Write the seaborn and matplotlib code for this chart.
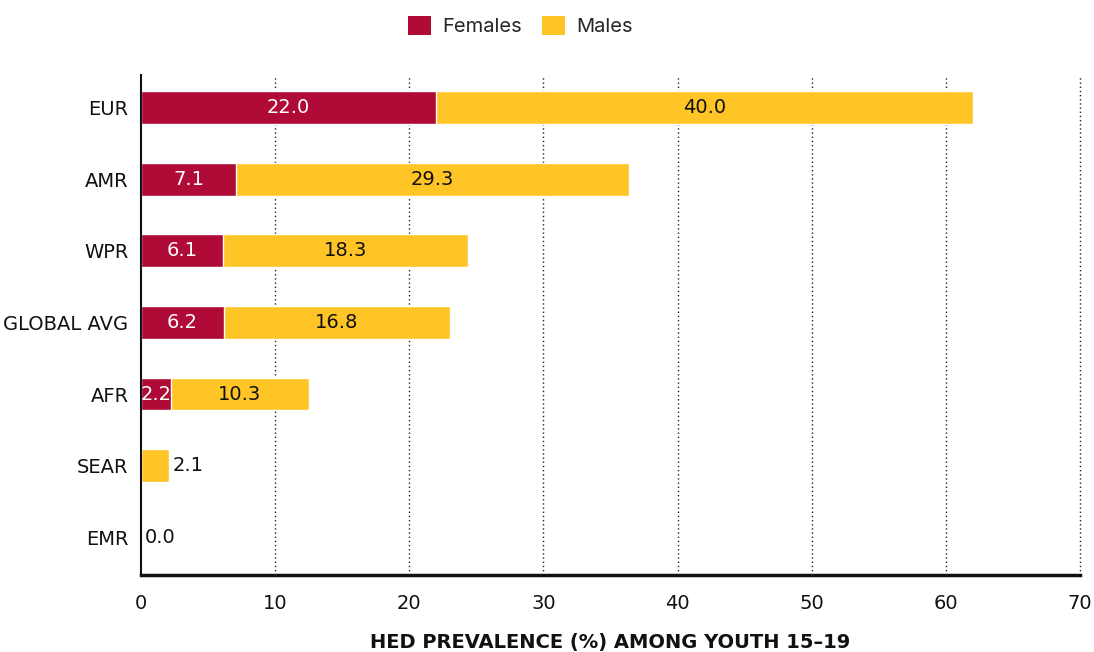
import matplotlib
matplotlib.use("Agg")
import matplotlib.pyplot as plt
from matplotlib.patches import Patch
import seaborn as sns
import pandas as pd

regions = ["EUR", "AMR", "WPR", "GLOBAL AVG", "AFR", "SEAR", "EMR"]
females = [22.0, 7.1, 6.1, 6.2, 2.2, 0.0, 0.0]
males = [40.0, 29.3, 18.3, 16.8, 10.3, 2.1, 0.0]
x_ticks = [0, 10, 20, 30, 40, 50, 60, 70]

RED = "#B00A36"
YELLOW = "#FFC425"

df = pd.DataFrame({"region": regions, "females": females, "males": males})
df["total"] = df["females"] + df["males"]

sns.set_theme(style="white")
plt.rcParams["font.family"] = ["DejaVu Sans"]

fig = plt.figure(figsize=(10.94, 6.52), dpi=100)
ax = fig.add_axes([0.1289, 0.1181, 0.8583, 0.7669])

sns.barplot(data=df, y="region", x="total", color=YELLOW, orient="h",
            width=0.46, saturation=1, ax=ax, zorder=3)
sns.barplot(data=df, y="region", x="females", color=RED, orient="h",
            width=0.46, saturation=1, ax=ax, zorder=3)

# value labels
for i, (f, m) in enumerate(zip(females, males)):
    if f > 0:
        ax.text(f / 2, i, f"{f:.1f}", ha="center", va="center", color="white",
                fontsize=14, zorder=5)
    if m >= 5:
        ax.text(f + m / 2, i, f"{m:.1f}", ha="center", va="center", color="#111111",
                fontsize=14, zorder=5)
    else:
        ax.text(f + m + 0.25, i, f"{m:.1f}", ha="left", va="center", color="#111111",
                fontsize=14, zorder=5)

ax.set_xlim(0, 70)
ax.set_ylim(6.53, -0.46)
ax.set_xticks(x_ticks)
ax.set_xticklabels([str(t) for t in x_ticks], fontsize=14)
ax.tick_params(axis="x", length=0, pad=14)
ax.tick_params(axis="y", length=3, width=1, color="#111111", pad=6, labelsize=14)
for lbl in ax.get_yticklabels():
    lbl.set_color("#111111")
for lbl in ax.get_xticklabels():
    lbl.set_color("#111111")

for t in x_ticks[1:]:
    ax.axvline(t, color="#222222", linestyle=(0, (1, 2)), linewidth=1.0, zorder=1,
               clip_on=False)

for side in ["top", "right"]:
    ax.spines[side].set_visible(False)
ax.spines["left"].set_color("#111111")
ax.spines["left"].set_linewidth(1.5)
ax.spines["bottom"].set_color("#111111")
ax.spines["bottom"].set_linewidth(2.5)
ax.spines["left"].set_zorder(6)
ax.spines["bottom"].set_zorder(6)

ax.set_ylabel("")
ax.set_xlabel("HED PREVALENCE (%) AMONG YOUTH 15–19", fontsize=14, fontweight="bold",
              color="#111111", labelpad=14)

handles = [Patch(facecolor=RED, edgecolor="none", label="Females"),
           Patch(facecolor=YELLOW, edgecolor="none", label="Males")]
fig.legend(handles=handles, loc="center", bbox_to_anchor=(0.476, 0.960), ncol=2,
           frameon=False, handlelength=1.1, handleheight=1.1, handletextpad=0.6,
           columnspacing=1.0, prop={"family": "Inter", "size": 14.5})

fig.savefig("out.png", dpi=100)
